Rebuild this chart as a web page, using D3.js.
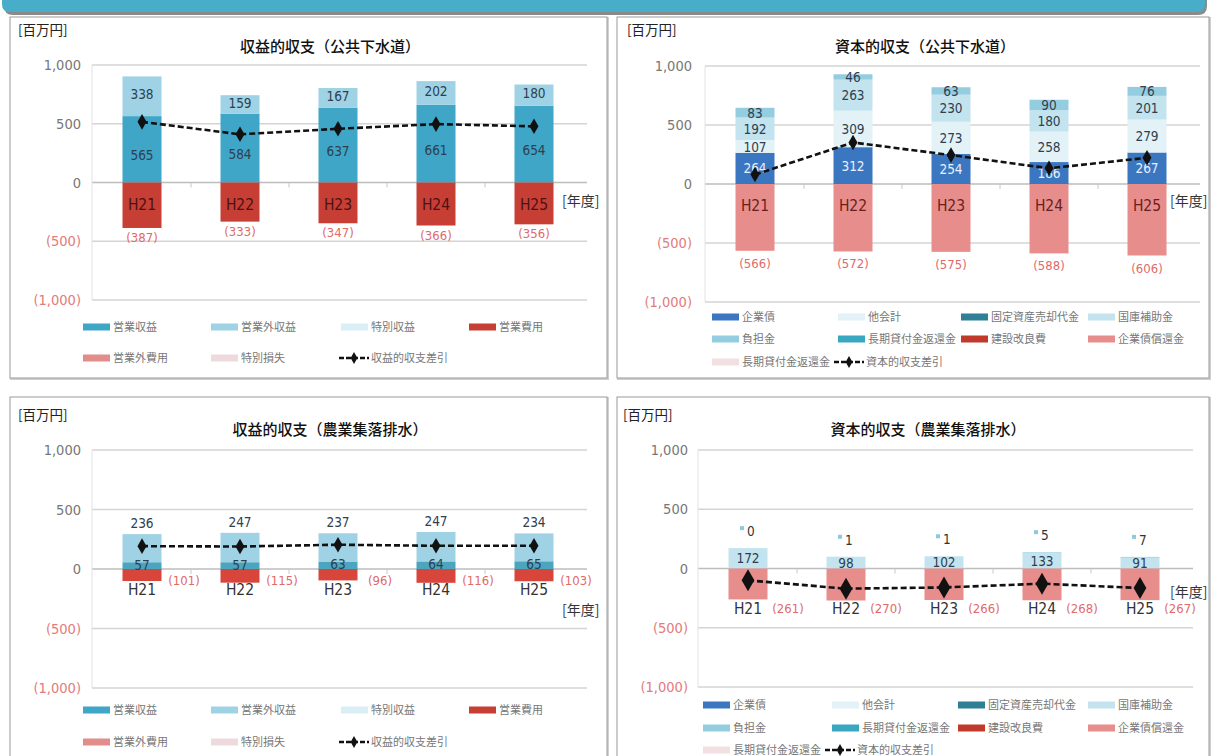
<!DOCTYPE html>
<html><head><meta charset="utf-8">
<script src="https://cdn.jsdelivr.net/npm/d3@7"></script>
<style>
html,body{margin:0;padding:0;background:#fff;}
svg{display:block;}
text{font-family:"Noto Sans CJK JP","Noto Sans",sans-serif;}
.num{font-family:"Liberation Sans Narrow","DejaVu Sans Condensed","Liberation Sans",sans-serif;}
</style></head>
<body>
<svg id="c" width="1211" height="756"></svg>
<script>
// ---------- data ----------
const years = ["H21","H22","H23","H24","H25"];
const yTicks = [1000, 500, 0, -500, -1000];
const yTickLabels = ["1,000","500","0","(500)","(1,000)"];

// 収益的収支（公共下水道）
const p1EigyoShueki    = [565, 584, 637, 661, 654];
const p1EigyogaiShueki = [338, 159, 167, 202, 180];
const p1EigyoHiyo      = [387, 333, 347, 366, 356];
const p1Sashihiki      = [516, 410, 457, 497, 478];

// 資本的収支（公共下水道）
const p2Kigyosai   = [264, 312, 254, 186, 267];
const p2Takaikei   = [107, 309, 273, 258, 279];
const p2Kokko      = [192, 263, 230, 180, 201];
const p2Futankin   = [83, 46, 63, 90, 76];
const p2Shokan     = [566, 572, 575, 588, 606];
const p2Sashihiki  = [80, 352, 245, 133, 222];

// 収益的収支（農業集落排水）
const p3EigyoShueki    = [57, 57, 63, 64, 65];
const p3EigyogaiShueki = [236, 247, 237, 247, 234];
const p3EigyoHiyo      = [101, 115, 96, 116, 103];
const p3Sashihiki      = [192, 189, 204, 195, 196];

// 資本的収支（農業集落排水）
const p4Kokko     = [172, 98, 102, 133, 91];
const p4Futankin  = [0, 1, 1, 5, 7];
const p4Shokan    = [261, 270, 266, 268, 267];
const p4Sashihiki = [-100, -170, -160, -128, -165];

// titles & legend labels
const titles = ["収益的収支（公共下水道）","資本的収支（公共下水道）","収益的収支（農業集落排水）","資本的収支（農業集落排水）"];
const legendShueki = ["営業収益","営業外収益","特別収益","営業費用","営業外費用","特別損失","収益的収支差引"];
const legendShihon = ["企業債","他会計","固定資産売却代金","国庫補助金","負担金","長期貸付金返還金","建設改良費","企業債償還金","長期貸付金返還金","資本的収支差引"];

// ---------- colours ----------
const C = {
  eigyoShueki:"#3fa6c8", eigyogaiShueki:"#9fd2e4", tokubetsuShueki:"#d9eef5",
  eigyoHiyo:"#c73e35", eigyogaiHiyo:"#e28d8c", tokubetsuSonshitsu:"#eedadd",
  kigyosai:"#3b76c0", takaikei:"#e3f2f7", kotei:"#2f7f95", kokko:"#c3e4ef",
  futankin:"#95cde0", choki:"#3aa7c1", kenkai:"#c0392b", shokan:"#e78e8c", choki2:"#f1dfe2"
};

const svg = d3.select("#c");

// banner
svg.append("path")
  .attr("d","M4,-10 L1207,-10 L1207,6 Q1207,15 1198,15 L13,15 Q4,15 4,6 Z")
  .attr("fill","#8a8a8a");
svg.append("path")
  .attr("d","M2,-10 L1205,-10 L1205,4 Q1205,12 1197,12 L10,12 Q2,12 2,4 Z")
  .attr("fill","#47adc8");

// panel frames
const frames = [[10,17,597,361],[617,17,592,361],[10,397,597,362],[617,397,592,362]];
frames.forEach(f=>{
  svg.append("rect").attr("x",f[0]+1).attr("y",f[1]+1).attr("width",f[2]).attr("height",f[3])
    .attr("fill","none").attr("stroke","#d0d0d0").attr("stroke-width",2);
  svg.append("rect").attr("x",f[0]).attr("y",f[1]).attr("width",f[2]).attr("height",f[3])
    .attr("fill","#fff").attr("stroke","#9a9a9a").attr("stroke-width",1);
});

function panel(cfg){
  const g = svg.append("g");
  const x = d3.scaleBand().domain(years).range([cfg.x0, cfg.x1]).paddingInner(0).paddingOuter(0);
  const y = d3.scaleLinear().domain([-1000,1000]).range([cfg.yb, cfg.yt]);
  const bw = 39;
  const cx = d => x(d) + x.bandwidth()/2;

  // gridlines
  g.selectAll(".grid").data(yTicks).join("line")
    .attr("x1",cfg.x0-1).attr("x2",cfg.x1+4)
    .attr("y1",d=>y(d)).attr("y2",d=>y(d))
    .attr("stroke",d=>d===0?"#bdbdbd":"#d4d4d4").attr("stroke-width",1.4);
  g.append("line").attr("x1",cfg.x0-1).attr("x2",cfg.x0-1).attr("y1",y(1000)).attr("y2",y(-1000))
    .attr("stroke","#e2e2e2").attr("stroke-width",1);
  // axis tick labels
  const ax = d3.axisLeft(y).tickValues(yTicks).tickSize(0).tickPadding(0)
    .tickFormat(d=>yTickLabels[yTicks.indexOf(d)]);
  const axg = g.append("g").attr("transform",`translate(${cfg.labelX},0)`).call(ax);
  axg.select(".domain").remove();
  axg.selectAll("text").attr("class","num").attr("font-size",14.5)
    .attr("fill",d=>d<0?"#e27b7b":"#777");
  // category ticks on zero line
  g.selectAll(".ct").data(years.slice(1)).join("line")
    .attr("x1",d=>x(d)).attr("x2",d=>x(d)).attr("y1",y(0)).attr("y2",y(0)+5)
    .attr("stroke","#c8c8c8");

  // bars
  const table = years.map((yr,i)=>{const o={year:yr}; cfg.pos.forEach(s=>o[s.key]=s.values[i]); return o;});
  const stack = d3.stack().keys(cfg.pos.map(s=>s.key))(table);
  stack.forEach((layer,li)=>{
    g.selectAll(null).data(layer).join("rect")
      .attr("x",d=>cx(d.data.year)-bw/2).attr("width",bw)
      .attr("y",d=>y(d[1])).attr("height",d=>Math.max(0,y(d[0])-y(d[1])))
      .attr("fill",cfg.pos[li].color);
  });
  const ntable = years.map((yr,i)=>{const o={year:yr}; cfg.neg.forEach(s=>o[s.key]=-s.values[i]); return o;});
  const nstack = d3.stack().keys(cfg.neg.map(s=>s.key)).offset(d3.stackOffsetDiverging)(ntable);
  nstack.forEach((layer,li)=>{
    g.selectAll(null).data(layer).join("rect")
      .attr("x",d=>cx(d.data.year)-bw/2).attr("width",bw)
      .attr("y",d=>y(Math.max(d[0],d[1]))).attr("height",d=>Math.abs(y(d[0])-y(d[1])))
      .attr("fill",cfg.neg[li].color);
  });

  // positive labels
  stack.forEach((layer,li)=>{
    const s = cfg.pos[li];
    if(s.noLabel) return;
    g.selectAll(null).data(layer).join("text").attr("class","num")
      .attr("x",d=>cx(d.data.year))
      .attr("y",d=> s.above ? y(d[1]) + s.above : (y(d[0])+y(d[1]))/2 + 5 + (s.dy||0))
      .attr("text-anchor","middle").attr("font-size",13.5)
      .attr("fill",s.labelColor||"#2d4050")
      .text(d=>d.data[s.key]);
  });
  // small marker labels (square + number)
  if(cfg.smallLabel){
    const s = cfg.smallLabel;
    const top = stack[stack.length-1];
    const grp = g.selectAll(null).data(top).join("g");
    grp.append("rect").attr("x",d=>cx(d.data.year)-8).attr("y",d=>y(d[1])-s.off-10)
      .attr("width",4).attr("height",4).attr("fill",s.color);
    grp.append("text").attr("class","num").attr("x",d=>cx(d.data.year)-1).attr("y",d=>y(d[1])-s.off)
      .attr("font-size",13.5).attr("fill","#333").text(d=>d.data[s.key]);
  }
  // negative labels
  const nb = nstack[nstack.length-1];
  g.selectAll(null).data(nb).join("text").attr("class","num")
    .attr("x",d=>cx(d.data.year)+cfg.negLabelDx)
    .attr("y",d=>cfg.negLabelFixed!=null ? y(0)+cfg.negLabelFixed : y(Math.min(d[0],d[1]))+cfg.negLabelDy)
    .attr("text-anchor","middle").attr("font-size",13)
    .attr("fill","#e06a6a")
    .text((d,i)=>"("+cfg.neg[0].values[i]+")");

  // year labels
  g.selectAll(null).data(years).join("text").attr("class","num")
    .attr("x",d=>cx(d)).attr("y",y(0)+cfg.yearDy)
    .attr("text-anchor","middle").attr("font-size",15.5)
    .attr("fill",cfg.yearColor).text(d=>d);

  // difference line
  const pts = years.map((yr,i)=>[cx(yr), y(cfg.diff[i])]);
  g.append("path").attr("d",d3.line()(pts)).attr("fill","none")
    .attr("stroke","#111").attr("stroke-width",2.6).attr("stroke-dasharray","6,3");
  g.selectAll(null).data(pts).join("path")
    .attr("transform",d=>`translate(${d[0]},${d[1]})`)
    .attr("d",d3.symbol(d3.symbolDiamond, cfg.markerSize)).attr("fill","#111");

  // texts
  g.append("text").attr("x",cfg.titleX).attr("y",cfg.titleY).attr("text-anchor","middle")
    .attr("font-size",15).attr("font-weight","500").attr("fill","#111").text(cfg.title);
  g.append("text").attr("x",cfg.unitX).attr("y",cfg.unitY).attr("font-size",13.5)
    .attr("fill","#222").text("[百万円]");
  g.append("text").attr("x",cfg.nendoX).attr("y",cfg.nendoY).attr("font-size",14)
    .attr("fill","#333").text("[年度]");

  // legend
  cfg.legend.forEach(it=>{
    if(it.line){
      g.append("line").attr("x1",it.x).attr("x2",it.x+30).attr("y1",it.y).attr("y2",it.y)
        .attr("stroke","#111").attr("stroke-width",2.5).attr("stroke-dasharray","5,2");
      g.append("path").attr("transform",`translate(${it.x+15},${it.y})`)
        .attr("d",d3.symbol(d3.symbolDiamond,40)).attr("fill","#111");
      g.append("text").attr("x",it.x+32).attr("y",it.y+4).attr("font-size",11)
        .attr("fill","#777").text(it.label);
    } else {
      g.append("rect").attr("x",it.x).attr("y",it.y-3.5).attr("width",27).attr("height",7)
        .attr("fill",it.color);
      g.append("text").attr("x",it.x+30).attr("y",it.y+4).attr("font-size",11)
        .attr("fill","#777").text(it.label);
    }
  });
}

function legendShuekiItems(r1,r2){
  const cols=[83,211,341,469];
  const cs=[C.eigyoShueki,C.eigyogaiShueki,C.tokubetsuShueki,C.eigyoHiyo,C.eigyogaiHiyo,C.tokubetsuSonshitsu];
  const items=[];
  for(let i=0;i<4;i++) items.push({x:cols[i],y:r1,color:cs[i],label:legendShueki[i]});
  for(let i=4;i<6;i++) items.push({x:cols[i-4],y:r2,color:cs[i],label:legendShueki[i]});
  items.push({x:339,y:r2,line:true,label:legendShueki[6]});
  return items;
}
function legendShihonItems(r1,r2,r3,cols){
  const cs=[C.kigyosai,C.takaikei,C.kotei,C.kokko,C.futankin,C.choki,C.kenkai,C.shokan,C.choki2];
  const items=[];
  for(let i=0;i<8;i++) items.push({x:cols[i%4],y:i<4?r1:r2,color:cs[i],label:legendShihon[i]});
  items.push({x:cols[0],y:r3,color:cs[8],label:legendShihon[8]});
  items.push({x:cols[0]+122,y:r3,line:true,label:legendShihon[9]});
  return items;
}

// Panel 1
panel({
  x0:93,x1:583,yt:65,yb:300,labelX:81,
  pos:[{key:"a",values:p1EigyoShueki,color:C.eigyoShueki,dy:6},
       {key:"b",values:p1EigyogaiShueki,color:C.eigyogaiShueki,dy:-2}],
  neg:[{key:"c",values:p1EigyoHiyo,color:C.eigyoHiyo}],
  negLabelDx:0,negLabelDy:14,
  yearDy:27,yearColor:"#4a1212",
  diff:p1Sashihiki,markerSize:70,
  title:titles[0],titleX:330,titleY:52,unitX:18,unitY:35,nendoX:562,nendoY:206,
  legend:legendShuekiItems(327,358)
});
// Panel 2
panel({
  x0:706,x1:1196,yt:66,yb:302,labelX:692,
  pos:[{key:"a",values:p2Kigyosai,color:C.kigyosai,labelColor:"#e8f0fa"},
       {key:"b",values:p2Takaikei,color:C.takaikei},
       {key:"c",values:p2Kokko,color:C.kokko},
       {key:"d",values:p2Futankin,color:C.futankin}],
  neg:[{key:"e",values:p2Shokan,color:C.shokan}],
  negLabelDx:0,negLabelDy:17,
  yearDy:27,yearColor:"#6a2020",
  diff:p2Sashihiki,markerSize:70,
  title:titles[1],titleX:925,titleY:52,unitX:627,unitY:35,nendoX:1170,nendoY:206,
  legend:legendShihonItems(317,339,362,[712,838,961,1088])
});
// Panel 3
panel({
  x0:93,x1:583,yt:450,yb:688,labelX:81,
  pos:[{key:"a",values:p3EigyoShueki,color:"#4ba5bf",dy:-1},
       {key:"b",values:p3EigyogaiShueki,color:C.eigyogaiShueki,above:-6}],
  neg:[{key:"c",values:p3EigyoHiyo,color:"#d8463b"}],
  negLabelDx:42,negLabelFixed:16,
  yearDy:26,yearColor:"#333",
  diff:p3Sashihiki,markerSize:70,
  title:titles[2],titleX:330,titleY:435,unitX:18,unitY:420,nendoX:562,nendoY:615,
  legend:legendShuekiItems(710,742)
});
// Panel 4
panel({
  x0:699,x1:1189,yt:450,yb:687,labelX:688,
  pos:[{key:"a",values:p4Kokko,color:C.kokko},
       {key:"b",values:p4Futankin,color:C.futankin,noLabel:true}],
  smallLabel:{key:"b",color:"#8fc9de",off:12},
  neg:[{key:"c",values:p4Shokan,color:C.shokan}],
  negLabelDx:40,negLabelFixed:44,
  yearDy:45,yearColor:"#333",
  diff:p4Sashihiki,markerSize:140,
  title:titles[3],titleX:928,titleY:435,unitX:623,unitY:420,nendoX:1170,nendoY:597,
  legend:legendShihonItems(705,728,750,[703,832,958,1088])
});
</script>
</body></html>
